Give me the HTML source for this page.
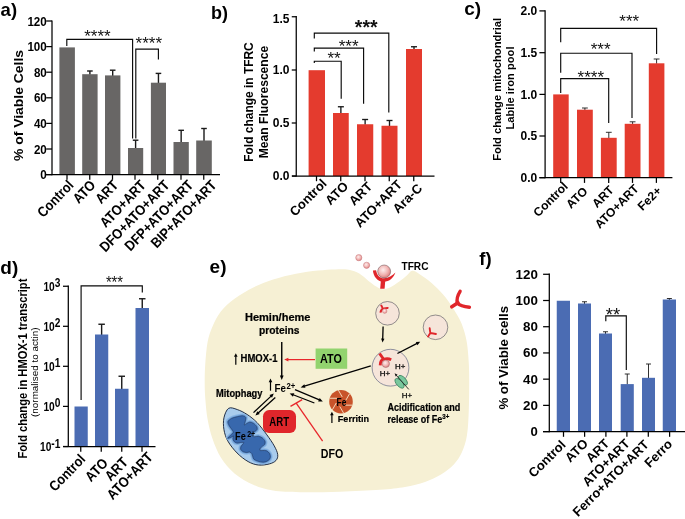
<!DOCTYPE html>
<html><head><meta charset="utf-8"><title>Figure</title>
<style>html,body{margin:0;padding:0;background:#fff;}svg{display:block;}text{font-family:"Liberation Sans", sans-serif;}</style></head><body>
<svg width="685" height="519" viewBox="0 0 685 519">
<defs><radialGradient id="pk" cx="0.42" cy="0.38" r="0.7"><stop offset="0" stop-color="#fdeeee"/><stop offset="0.55" stop-color="#f1b3b1"/><stop offset="1" stop-color="#d66f70"/></radialGradient></defs>
<rect width="685" height="519" fill="#fff"/>
<text x="0.60" y="16.00" font-size="18.5" font-weight="bold" text-anchor="start" fill="#000">a)</text>
<text x="211.00" y="18.50" font-size="18" font-weight="bold" text-anchor="start" fill="#000">b)</text>
<text x="464.30" y="14.70" font-size="19" font-weight="bold" text-anchor="start" fill="#000">c)</text>
<text x="0.30" y="273.50" font-size="19" font-weight="bold" text-anchor="start" fill="#000">d)</text>
<text x="209.60" y="272.90" font-size="19" font-weight="bold" text-anchor="start" fill="#000">e)</text>
<text x="479.30" y="265.40" font-size="18.5" font-weight="bold" text-anchor="start" fill="#000">f)</text>
<g id="panel-a">
<rect x="59.40" y="47.40" width="15.50" height="127.20" fill="#686665"/>
<line x1="89.90" y1="74.70" x2="89.90" y2="71.00" stroke="#1a1a1a" stroke-width="1.4" stroke-linecap="butt"/>
<line x1="87.10" y1="71.00" x2="92.70" y2="71.00" stroke="#1a1a1a" stroke-width="1.4" stroke-linecap="butt"/>
<rect x="82.20" y="74.20" width="15.40" height="100.40" fill="#686665"/>
<line x1="112.70" y1="75.90" x2="112.70" y2="70.20" stroke="#1a1a1a" stroke-width="1.4" stroke-linecap="butt"/>
<line x1="109.90" y1="70.20" x2="115.50" y2="70.20" stroke="#1a1a1a" stroke-width="1.4" stroke-linecap="butt"/>
<rect x="105.00" y="75.40" width="15.40" height="99.20" fill="#686665"/>
<line x1="135.60" y1="148.50" x2="135.60" y2="140.20" stroke="#1a1a1a" stroke-width="1.4" stroke-linecap="butt"/>
<line x1="132.80" y1="140.20" x2="138.40" y2="140.20" stroke="#1a1a1a" stroke-width="1.4" stroke-linecap="butt"/>
<rect x="128.00" y="148.00" width="15.20" height="26.60" fill="#686665"/>
<line x1="158.45" y1="83.20" x2="158.45" y2="73.40" stroke="#1a1a1a" stroke-width="1.4" stroke-linecap="butt"/>
<line x1="155.65" y1="73.40" x2="161.25" y2="73.40" stroke="#1a1a1a" stroke-width="1.4" stroke-linecap="butt"/>
<rect x="150.90" y="82.70" width="15.10" height="91.90" fill="#686665"/>
<line x1="181.15" y1="142.50" x2="181.15" y2="130.30" stroke="#1a1a1a" stroke-width="1.4" stroke-linecap="butt"/>
<line x1="178.35" y1="130.30" x2="183.95" y2="130.30" stroke="#1a1a1a" stroke-width="1.4" stroke-linecap="butt"/>
<rect x="173.50" y="142.00" width="15.30" height="32.60" fill="#686665"/>
<line x1="204.00" y1="141.00" x2="204.00" y2="128.50" stroke="#1a1a1a" stroke-width="1.4" stroke-linecap="butt"/>
<line x1="201.20" y1="128.50" x2="206.80" y2="128.50" stroke="#1a1a1a" stroke-width="1.4" stroke-linecap="butt"/>
<rect x="196.20" y="140.50" width="15.60" height="34.10" fill="#686665"/>
<line x1="52.00" y1="20.38" x2="52.00" y2="175.22" stroke="#000" stroke-width="1.25" stroke-linecap="butt"/>
<line x1="46.00" y1="174.60" x2="220.00" y2="174.60" stroke="#000" stroke-width="1.25" stroke-linecap="butt"/>
<line x1="46.20" y1="174.60" x2="52.00" y2="174.60" stroke="#000" stroke-width="1.25" stroke-linecap="butt"/>
<text x="46.80" y="179.14" font-size="12.6" font-weight="bold" text-anchor="end" fill="#000" textLength="6.50" lengthAdjust="spacingAndGlyphs">0</text>
<line x1="46.20" y1="149.00" x2="52.00" y2="149.00" stroke="#000" stroke-width="1.25" stroke-linecap="butt"/>
<text x="46.80" y="153.54" font-size="12.6" font-weight="bold" text-anchor="end" fill="#000" textLength="12.90" lengthAdjust="spacingAndGlyphs">20</text>
<line x1="46.20" y1="123.40" x2="52.00" y2="123.40" stroke="#000" stroke-width="1.25" stroke-linecap="butt"/>
<text x="46.80" y="127.94" font-size="12.6" font-weight="bold" text-anchor="end" fill="#000" textLength="12.90" lengthAdjust="spacingAndGlyphs">40</text>
<line x1="46.20" y1="97.80" x2="52.00" y2="97.80" stroke="#000" stroke-width="1.25" stroke-linecap="butt"/>
<text x="46.80" y="102.34" font-size="12.6" font-weight="bold" text-anchor="end" fill="#000" textLength="12.90" lengthAdjust="spacingAndGlyphs">60</text>
<line x1="46.20" y1="72.20" x2="52.00" y2="72.20" stroke="#000" stroke-width="1.25" stroke-linecap="butt"/>
<text x="46.80" y="76.74" font-size="12.6" font-weight="bold" text-anchor="end" fill="#000" textLength="12.90" lengthAdjust="spacingAndGlyphs">80</text>
<line x1="46.20" y1="46.60" x2="52.00" y2="46.60" stroke="#000" stroke-width="1.25" stroke-linecap="butt"/>
<text x="46.80" y="51.14" font-size="12.6" font-weight="bold" text-anchor="end" fill="#000" textLength="19.40" lengthAdjust="spacingAndGlyphs">100</text>
<line x1="46.20" y1="21.00" x2="52.00" y2="21.00" stroke="#000" stroke-width="1.25" stroke-linecap="butt"/>
<text x="46.80" y="26.14" font-size="12.6" font-weight="bold" text-anchor="end" fill="#000" textLength="19.40" lengthAdjust="spacingAndGlyphs">120</text>
<line x1="67.00" y1="174.60" x2="67.00" y2="179.80" stroke="#000" stroke-width="1.25" stroke-linecap="butt"/>
<text x="0.00" y="0.00" font-size="14.3" font-weight="bold" text-anchor="end" fill="#000" transform="translate(74.50 185.90) rotate(-46) scale(0.885 1)">Control</text>
<line x1="89.75" y1="174.60" x2="89.75" y2="179.80" stroke="#000" stroke-width="1.25" stroke-linecap="butt"/>
<text x="0.00" y="0.00" font-size="14.3" font-weight="bold" text-anchor="end" fill="#000" transform="translate(96.45 185.90) rotate(-46) scale(0.885 1)">ATO</text>
<line x1="112.50" y1="174.60" x2="112.50" y2="179.80" stroke="#000" stroke-width="1.25" stroke-linecap="butt"/>
<text x="0.00" y="0.00" font-size="14.3" font-weight="bold" text-anchor="end" fill="#000" transform="translate(119.20 185.90) rotate(-46) scale(0.885 1)">ART</text>
<line x1="135.00" y1="174.60" x2="135.00" y2="179.80" stroke="#000" stroke-width="1.25" stroke-linecap="butt"/>
<text x="0.00" y="0.00" font-size="14.3" font-weight="bold" text-anchor="end" fill="#000" transform="translate(146.70 185.90) rotate(-46) scale(0.885 1)">ATO+ART</text>
<line x1="157.75" y1="174.60" x2="157.75" y2="179.80" stroke="#000" stroke-width="1.25" stroke-linecap="butt"/>
<text x="0.00" y="0.00" font-size="14.3" font-weight="bold" text-anchor="end" fill="#000" transform="translate(170.25 185.90) rotate(-46) scale(0.885 1)">DFO+ATO+ART</text>
<line x1="181.00" y1="174.60" x2="181.00" y2="179.80" stroke="#000" stroke-width="1.25" stroke-linecap="butt"/>
<text x="0.00" y="0.00" font-size="14.3" font-weight="bold" text-anchor="end" fill="#000" transform="translate(194.20 185.90) rotate(-46) scale(0.885 1)">DFP+ATO+ART</text>
<line x1="203.75" y1="174.60" x2="203.75" y2="179.80" stroke="#000" stroke-width="1.25" stroke-linecap="butt"/>
<text x="0.00" y="0.00" font-size="14.3" font-weight="bold" text-anchor="end" fill="#000" transform="translate(217.45 185.90) rotate(-46) scale(0.885 1)">BIP+ATO+ART</text>
<text x="23.30" y="105.50" font-size="13.5" font-weight="bold" text-anchor="middle" fill="#000" textLength="111.00" lengthAdjust="spacingAndGlyphs" transform="rotate(-90 23.30 105.50)">% of Viable Cells</text>
<polyline points="66.80,46.00 66.80,39.40 132.60,39.40 132.60,138.50" fill="none" stroke="#0a0a0a" stroke-width="1.15"/>
<polyline points="135.80,138.50 135.80,49.10 158.40,49.10 158.40,59.60" fill="none" stroke="#0a0a0a" stroke-width="1.15"/>
<text x="97.40" y="42.10" font-size="17" font-weight="normal" text-anchor="middle" fill="#111">****</text>
<text x="148.80" y="48.60" font-size="17" font-weight="normal" text-anchor="middle" fill="#111">****</text>
</g>
<g id="panel-b">
<rect x="308.60" y="70.20" width="16.40" height="105.80" fill="#e43b2e"/>
<line x1="340.88" y1="113.50" x2="340.88" y2="106.75" stroke="#1a1a1a" stroke-width="1.35" stroke-linecap="butt"/>
<line x1="337.88" y1="106.75" x2="343.88" y2="106.75" stroke="#1a1a1a" stroke-width="1.35" stroke-linecap="butt"/>
<rect x="333.00" y="113.00" width="15.75" height="63.00" fill="#e43b2e"/>
<line x1="365.12" y1="124.75" x2="365.12" y2="119.50" stroke="#1a1a1a" stroke-width="1.35" stroke-linecap="butt"/>
<line x1="362.12" y1="119.50" x2="368.12" y2="119.50" stroke="#1a1a1a" stroke-width="1.35" stroke-linecap="butt"/>
<rect x="357.00" y="124.25" width="16.25" height="51.75" fill="#e43b2e"/>
<line x1="389.50" y1="126.25" x2="389.50" y2="120.50" stroke="#1a1a1a" stroke-width="1.35" stroke-linecap="butt"/>
<line x1="386.50" y1="120.50" x2="392.50" y2="120.50" stroke="#1a1a1a" stroke-width="1.35" stroke-linecap="butt"/>
<rect x="381.50" y="125.75" width="16.00" height="50.25" fill="#e43b2e"/>
<line x1="414.00" y1="49.50" x2="414.00" y2="46.75" stroke="#1a1a1a" stroke-width="1.35" stroke-linecap="butt"/>
<line x1="411.00" y1="46.75" x2="417.00" y2="46.75" stroke="#1a1a1a" stroke-width="1.35" stroke-linecap="butt"/>
<rect x="406.00" y="49.00" width="16.00" height="127.00" fill="#e43b2e"/>
<line x1="296.25" y1="16.12" x2="296.25" y2="176.62" stroke="#000" stroke-width="1.25" stroke-linecap="butt"/>
<line x1="292.00" y1="176.00" x2="434.50" y2="176.00" stroke="#000" stroke-width="1.25" stroke-linecap="butt"/>
<line x1="291.75" y1="176.00" x2="296.25" y2="176.00" stroke="#000" stroke-width="1.25" stroke-linecap="butt"/>
<text x="289.55" y="180.32" font-size="12" font-weight="bold" text-anchor="end" fill="#000">0.0</text>
<line x1="291.75" y1="123.00" x2="296.25" y2="123.00" stroke="#000" stroke-width="1.25" stroke-linecap="butt"/>
<text x="289.55" y="127.32" font-size="12" font-weight="bold" text-anchor="end" fill="#000">0.5</text>
<line x1="291.75" y1="70.00" x2="296.25" y2="70.00" stroke="#000" stroke-width="1.25" stroke-linecap="butt"/>
<text x="289.55" y="74.32" font-size="12" font-weight="bold" text-anchor="end" fill="#000">1.0</text>
<line x1="291.75" y1="16.75" x2="296.25" y2="16.75" stroke="#000" stroke-width="1.25" stroke-linecap="butt"/>
<text x="289.55" y="22.57" font-size="12" font-weight="bold" text-anchor="end" fill="#000">1.5</text>
<line x1="316.50" y1="176.00" x2="316.50" y2="181.20" stroke="#000" stroke-width="1.25" stroke-linecap="butt"/>
<text x="0.00" y="0.00" font-size="13" font-weight="bold" text-anchor="end" fill="#000" transform="translate(327.60 184.40) rotate(-45) scale(1.0 1)">Control</text>
<line x1="340.75" y1="176.00" x2="340.75" y2="181.20" stroke="#000" stroke-width="1.25" stroke-linecap="butt"/>
<text x="0.00" y="0.00" font-size="13" font-weight="bold" text-anchor="end" fill="#000" transform="translate(349.15 187.20) rotate(-45) scale(1.0 1)">ATO</text>
<line x1="365.00" y1="176.00" x2="365.00" y2="181.20" stroke="#000" stroke-width="1.25" stroke-linecap="butt"/>
<text x="0.00" y="0.00" font-size="13" font-weight="bold" text-anchor="end" fill="#000" transform="translate(373.10 187.40) rotate(-45) scale(1.0 1)">ART</text>
<line x1="389.25" y1="176.00" x2="389.25" y2="181.20" stroke="#000" stroke-width="1.25" stroke-linecap="butt"/>
<text x="0.00" y="0.00" font-size="13" font-weight="bold" text-anchor="end" fill="#000" transform="translate(402.75 185.50) rotate(-45) scale(1.0 1)">ATO+ART</text>
<line x1="413.75" y1="176.00" x2="413.75" y2="181.20" stroke="#000" stroke-width="1.25" stroke-linecap="butt"/>
<text x="0.00" y="0.00" font-size="13" font-weight="bold" text-anchor="end" fill="#000" transform="translate(423.05 189.00) rotate(-45) scale(1.0 1)">Ara-C</text>
<text x="252.80" y="102.00" font-size="12" font-weight="bold" text-anchor="middle" fill="#000" textLength="119.50" lengthAdjust="spacingAndGlyphs" transform="rotate(-90 252.80 102.00)">Fold change in TFRC</text>
<text x="267.80" y="102.00" font-size="12" font-weight="bold" text-anchor="middle" fill="#000" textLength="112.50" lengthAdjust="spacingAndGlyphs" transform="rotate(-90 267.80 102.00)">Mean Fluorescence</text>
<polyline points="314.30,38.60 314.30,33.10 388.80,33.10 388.80,112.50" fill="none" stroke="#0a0a0a" stroke-width="1.15"/>
<polyline points="314.30,51.40 314.30,48.10 363.60,48.10 363.60,103.80" fill="none" stroke="#0a0a0a" stroke-width="1.15"/>
<polyline points="314.30,63.00 314.30,61.20 341.20,61.20 341.20,98.80" fill="none" stroke="#0a0a0a" stroke-width="1.15"/>
<text x="366.20" y="34.00" font-size="19.5" font-weight="bold" text-anchor="middle" fill="#111">***</text>
<text x="348.60" y="51.80" font-size="17" font-weight="normal" text-anchor="middle" fill="#111">***</text>
<text x="334.10" y="64.30" font-size="17" font-weight="normal" text-anchor="middle" fill="#111">**</text>
</g>
<g id="panel-c">
<rect x="553.20" y="94.40" width="15.50" height="83.30" fill="#e43b2e"/>
<line x1="584.90" y1="110.20" x2="584.90" y2="108.00" stroke="#1a1a1a" stroke-width="0.9" stroke-linecap="butt"/>
<line x1="582.00" y1="108.00" x2="587.80" y2="108.00" stroke="#1a1a1a" stroke-width="0.9" stroke-linecap="butt"/>
<rect x="577.00" y="109.70" width="15.80" height="68.00" fill="#e43b2e"/>
<line x1="608.80" y1="138.30" x2="608.80" y2="132.30" stroke="#1a1a1a" stroke-width="0.9" stroke-linecap="butt"/>
<line x1="605.90" y1="132.30" x2="611.70" y2="132.30" stroke="#1a1a1a" stroke-width="0.9" stroke-linecap="butt"/>
<rect x="600.90" y="137.80" width="15.80" height="39.90" fill="#e43b2e"/>
<line x1="632.60" y1="124.30" x2="632.60" y2="121.80" stroke="#1a1a1a" stroke-width="0.9" stroke-linecap="butt"/>
<line x1="629.70" y1="121.80" x2="635.50" y2="121.80" stroke="#1a1a1a" stroke-width="0.9" stroke-linecap="butt"/>
<rect x="624.70" y="123.80" width="15.80" height="53.90" fill="#e43b2e"/>
<line x1="656.60" y1="63.80" x2="656.60" y2="59.00" stroke="#1a1a1a" stroke-width="0.9" stroke-linecap="butt"/>
<line x1="653.70" y1="59.00" x2="659.50" y2="59.00" stroke="#1a1a1a" stroke-width="0.9" stroke-linecap="butt"/>
<rect x="648.80" y="63.30" width="15.60" height="114.40" fill="#e43b2e"/>
<line x1="545.10" y1="10.28" x2="545.10" y2="178.32" stroke="#000" stroke-width="1.25" stroke-linecap="butt"/>
<line x1="539.40" y1="177.70" x2="672.40" y2="177.70" stroke="#000" stroke-width="1.25" stroke-linecap="butt"/>
<line x1="539.40" y1="177.70" x2="545.10" y2="177.70" stroke="#000" stroke-width="1.25" stroke-linecap="butt"/>
<text x="537.20" y="182.02" font-size="12" font-weight="bold" text-anchor="end" fill="#000">0.0</text>
<line x1="539.40" y1="136.00" x2="545.10" y2="136.00" stroke="#000" stroke-width="1.25" stroke-linecap="butt"/>
<text x="537.20" y="140.32" font-size="12" font-weight="bold" text-anchor="end" fill="#000">0.5</text>
<line x1="539.40" y1="94.40" x2="545.10" y2="94.40" stroke="#000" stroke-width="1.25" stroke-linecap="butt"/>
<text x="537.20" y="98.72" font-size="12" font-weight="bold" text-anchor="end" fill="#000">1.0</text>
<line x1="539.40" y1="52.70" x2="545.10" y2="52.70" stroke="#000" stroke-width="1.25" stroke-linecap="butt"/>
<text x="537.20" y="57.02" font-size="12" font-weight="bold" text-anchor="end" fill="#000">1.5</text>
<line x1="539.40" y1="10.90" x2="545.10" y2="10.90" stroke="#000" stroke-width="1.25" stroke-linecap="butt"/>
<text x="537.20" y="15.22" font-size="12" font-weight="bold" text-anchor="end" fill="#000">2.0</text>
<line x1="560.70" y1="177.70" x2="560.70" y2="182.90" stroke="#000" stroke-width="1.25" stroke-linecap="butt"/>
<text x="0.00" y="0.00" font-size="12.1" font-weight="bold" text-anchor="end" fill="#000" transform="translate(568.70 187.10) rotate(-45) scale(1.0 1)">Control</text>
<line x1="584.50" y1="177.70" x2="584.50" y2="182.90" stroke="#000" stroke-width="1.25" stroke-linecap="butt"/>
<text x="0.00" y="0.00" font-size="12.1" font-weight="bold" text-anchor="end" fill="#000" transform="translate(588.30 192.00) rotate(-45) scale(1.0 1)">ATO</text>
<line x1="608.70" y1="177.70" x2="608.70" y2="182.90" stroke="#000" stroke-width="1.25" stroke-linecap="butt"/>
<text x="0.00" y="0.00" font-size="12.1" font-weight="bold" text-anchor="end" fill="#000" transform="translate(614.60 190.80) rotate(-45) scale(1.0 1)">ART</text>
<line x1="632.50" y1="177.70" x2="632.50" y2="182.90" stroke="#000" stroke-width="1.25" stroke-linecap="butt"/>
<text x="0.00" y="0.00" font-size="12.1" font-weight="bold" text-anchor="end" fill="#000" transform="translate(639.50 189.40) rotate(-45) scale(1.0 1)">ATO+ART</text>
<line x1="656.40" y1="177.70" x2="656.40" y2="182.90" stroke="#000" stroke-width="1.25" stroke-linecap="butt"/>
<text x="0.00" y="0.00" font-size="12.1" font-weight="bold" text-anchor="end" fill="#000" transform="translate(662.30 191.50) rotate(-45) scale(1.0 1)">Fe2+</text>
<text x="501.00" y="89.30" font-size="11.2" font-weight="bold" text-anchor="middle" fill="#000" textLength="142.80" lengthAdjust="spacingAndGlyphs" transform="rotate(-90 501.00 89.30)">Fold change mitochondrial</text>
<text x="514.00" y="88.00" font-size="11.2" font-weight="bold" text-anchor="middle" fill="#000" textLength="83.00" lengthAdjust="spacingAndGlyphs" transform="rotate(-90 514.00 88.00)">Labile iron pool</text>
<polyline points="560.70,42.20 560.70,28.40 656.60,28.40 656.60,54.00" fill="none" stroke="#0a0a0a" stroke-width="1.15"/>
<polyline points="560.70,72.80 560.70,53.20 632.00,53.20 632.00,118.00" fill="none" stroke="#0a0a0a" stroke-width="1.15"/>
<polyline points="560.70,92.90 560.70,78.60 608.70,78.60 608.70,123.00" fill="none" stroke="#0a0a0a" stroke-width="1.15"/>
<text x="629.20" y="27.30" font-size="17" font-weight="normal" text-anchor="middle" fill="#111">***</text>
<text x="600.60" y="54.90" font-size="17" font-weight="normal" text-anchor="middle" fill="#111">***</text>
<text x="590.80" y="82.50" font-size="17" font-weight="normal" text-anchor="middle" fill="#111">****</text>
</g>
<g id="panel-d">
<rect x="74.50" y="406.50" width="13.25" height="40.00" fill="#4b6cb3"/>
<line x1="101.62" y1="335.00" x2="101.62" y2="324.25" stroke="#1a1a1a" stroke-width="1.4" stroke-linecap="butt"/>
<line x1="98.38" y1="324.25" x2="104.88" y2="324.25" stroke="#1a1a1a" stroke-width="1.4" stroke-linecap="butt"/>
<rect x="95.00" y="334.50" width="13.25" height="112.00" fill="#4b6cb3"/>
<line x1="121.75" y1="389.25" x2="121.75" y2="376.25" stroke="#1a1a1a" stroke-width="1.4" stroke-linecap="butt"/>
<line x1="118.50" y1="376.25" x2="125.00" y2="376.25" stroke="#1a1a1a" stroke-width="1.4" stroke-linecap="butt"/>
<rect x="115.00" y="388.75" width="13.50" height="57.75" fill="#4b6cb3"/>
<line x1="142.25" y1="308.50" x2="142.25" y2="298.75" stroke="#1a1a1a" stroke-width="1.4" stroke-linecap="butt"/>
<line x1="139.00" y1="298.75" x2="145.50" y2="298.75" stroke="#1a1a1a" stroke-width="1.4" stroke-linecap="butt"/>
<rect x="135.50" y="308.00" width="13.50" height="138.50" fill="#4b6cb3"/>
<line x1="68.30" y1="285.62" x2="68.30" y2="447.12" stroke="#000" stroke-width="1.25" stroke-linecap="butt"/>
<line x1="63.20" y1="446.50" x2="155.50" y2="446.50" stroke="#000" stroke-width="1.25" stroke-linecap="butt"/>
<line x1="63.00" y1="446.50" x2="68.30" y2="446.50" stroke="#000" stroke-width="1.25" stroke-linecap="butt"/>
<line x1="63.00" y1="406.40" x2="68.30" y2="406.40" stroke="#000" stroke-width="1.25" stroke-linecap="butt"/>
<line x1="63.00" y1="366.30" x2="68.30" y2="366.30" stroke="#000" stroke-width="1.25" stroke-linecap="butt"/>
<line x1="63.00" y1="326.30" x2="68.30" y2="326.30" stroke="#000" stroke-width="1.25" stroke-linecap="butt"/>
<line x1="63.00" y1="286.25" x2="68.30" y2="286.25" stroke="#000" stroke-width="1.25" stroke-linecap="butt"/>
<line x1="80.75" y1="446.50" x2="80.75" y2="451.70" stroke="#000" stroke-width="1.25" stroke-linecap="butt"/>
<text x="0.00" y="0.00" font-size="14.3" font-weight="bold" text-anchor="end" fill="#000" transform="translate(86.25 460.00) rotate(-46) scale(0.885 1)">Control</text>
<line x1="101.25" y1="446.50" x2="101.25" y2="451.70" stroke="#000" stroke-width="1.25" stroke-linecap="butt"/>
<text x="0.00" y="0.00" font-size="14.3" font-weight="bold" text-anchor="end" fill="#000" transform="translate(108.75 464.00) rotate(-46) scale(0.885 1)">ATO</text>
<line x1="121.75" y1="446.50" x2="121.75" y2="451.70" stroke="#000" stroke-width="1.25" stroke-linecap="butt"/>
<text x="0.00" y="0.00" font-size="14.3" font-weight="bold" text-anchor="end" fill="#000" transform="translate(128.75 463.00) rotate(-46) scale(0.885 1)">ART</text>
<line x1="142.00" y1="446.50" x2="142.00" y2="451.70" stroke="#000" stroke-width="1.25" stroke-linecap="butt"/>
<text x="0.00" y="0.00" font-size="14.3" font-weight="bold" text-anchor="end" fill="#000" transform="translate(153.70 458.00) rotate(-46) scale(0.885 1)">ATO+ART</text>
<text transform="translate(60.4 450.90) scale(0.85 1)" font-size="12" font-weight="bold" text-anchor="end">10<tspan dy="-3.4">-1</tspan></text>
<text transform="translate(60.4 410.80) scale(0.85 1)" font-size="12" font-weight="bold" text-anchor="end">10<tspan dy="-3.4">0</tspan></text>
<text transform="translate(60.4 370.70) scale(0.85 1)" font-size="12" font-weight="bold" text-anchor="end">10<tspan dy="-3.4">1</tspan></text>
<text transform="translate(60.4 330.70) scale(0.85 1)" font-size="12" font-weight="bold" text-anchor="end">10<tspan dy="-3.4">2</tspan></text>
<text transform="translate(60.4 290.65) scale(0.85 1)" font-size="12" font-weight="bold" text-anchor="end">10<tspan dy="-3.4">3</tspan></text>
<text x="27.20" y="368.60" font-size="12.5" font-weight="bold" text-anchor="middle" fill="#000" textLength="180.00" lengthAdjust="spacingAndGlyphs" transform="rotate(-90 27.20 368.60)">Fold change in HMOX-1 transcript</text>
<text x="37.60" y="372.20" font-size="9.8" font-weight="normal" text-anchor="middle" fill="#000" textLength="89.50" lengthAdjust="spacingAndGlyphs" transform="rotate(-90 37.60 372.20)">(normalised to actin)</text>
<polyline points="81.10,400.00 81.10,285.90 142.30,285.90 142.30,292.50" fill="none" stroke="#0a0a0a" stroke-width="1.15"/>
<text x="114.50" y="288.40" font-size="17" font-weight="normal" text-anchor="middle" fill="#111" textLength="17.20" lengthAdjust="spacingAndGlyphs">***</text>
</g>
<g id="panel-f">
<rect x="556.75" y="300.75" width="13.25" height="130.85" fill="#4b6cb3"/>
<line x1="584.50" y1="304.00" x2="584.50" y2="301.75" stroke="#1a1a1a" stroke-width="0.9" stroke-linecap="butt"/>
<line x1="582.00" y1="301.75" x2="587.00" y2="301.75" stroke="#1a1a1a" stroke-width="0.9" stroke-linecap="butt"/>
<rect x="578.00" y="303.50" width="13.00" height="128.10" fill="#4b6cb3"/>
<line x1="605.50" y1="334.00" x2="605.50" y2="331.75" stroke="#1a1a1a" stroke-width="0.9" stroke-linecap="butt"/>
<line x1="603.00" y1="331.75" x2="608.00" y2="331.75" stroke="#1a1a1a" stroke-width="0.9" stroke-linecap="butt"/>
<rect x="599.00" y="333.50" width="13.00" height="98.10" fill="#4b6cb3"/>
<line x1="627.25" y1="384.60" x2="627.25" y2="374.00" stroke="#1a1a1a" stroke-width="0.9" stroke-linecap="butt"/>
<line x1="624.75" y1="374.00" x2="629.75" y2="374.00" stroke="#1a1a1a" stroke-width="0.9" stroke-linecap="butt"/>
<rect x="620.70" y="384.10" width="13.10" height="47.50" fill="#4b6cb3"/>
<line x1="648.50" y1="378.30" x2="648.50" y2="364.00" stroke="#1a1a1a" stroke-width="0.9" stroke-linecap="butt"/>
<line x1="646.00" y1="364.00" x2="651.00" y2="364.00" stroke="#1a1a1a" stroke-width="0.9" stroke-linecap="butt"/>
<rect x="642.00" y="377.80" width="13.00" height="53.80" fill="#4b6cb3"/>
<line x1="669.38" y1="300.00" x2="669.38" y2="298.50" stroke="#1a1a1a" stroke-width="0.9" stroke-linecap="butt"/>
<line x1="666.88" y1="298.50" x2="671.88" y2="298.50" stroke="#1a1a1a" stroke-width="0.9" stroke-linecap="butt"/>
<rect x="662.75" y="299.50" width="13.25" height="132.10" fill="#4b6cb3"/>
<line x1="549.30" y1="273.62" x2="549.30" y2="432.23" stroke="#000" stroke-width="1.25" stroke-linecap="butt"/>
<line x1="543.00" y1="431.60" x2="685.00" y2="431.60" stroke="#000" stroke-width="1.25" stroke-linecap="butt"/>
<line x1="543.10" y1="431.60" x2="549.30" y2="431.60" stroke="#000" stroke-width="1.25" stroke-linecap="butt"/>
<text x="537.90" y="436.10" font-size="12.5" font-weight="bold" text-anchor="end" fill="#000" textLength="7.30" lengthAdjust="spacingAndGlyphs">0</text>
<line x1="543.10" y1="405.38" x2="549.30" y2="405.38" stroke="#000" stroke-width="1.25" stroke-linecap="butt"/>
<text x="537.90" y="409.88" font-size="12.5" font-weight="bold" text-anchor="end" fill="#000" textLength="14.90" lengthAdjust="spacingAndGlyphs">20</text>
<line x1="543.10" y1="379.16" x2="549.30" y2="379.16" stroke="#000" stroke-width="1.25" stroke-linecap="butt"/>
<text x="537.90" y="383.66" font-size="12.5" font-weight="bold" text-anchor="end" fill="#000" textLength="14.90" lengthAdjust="spacingAndGlyphs">40</text>
<line x1="543.10" y1="352.94" x2="549.30" y2="352.94" stroke="#000" stroke-width="1.25" stroke-linecap="butt"/>
<text x="537.90" y="357.44" font-size="12.5" font-weight="bold" text-anchor="end" fill="#000" textLength="14.90" lengthAdjust="spacingAndGlyphs">60</text>
<line x1="543.10" y1="326.72" x2="549.30" y2="326.72" stroke="#000" stroke-width="1.25" stroke-linecap="butt"/>
<text x="537.90" y="331.22" font-size="12.5" font-weight="bold" text-anchor="end" fill="#000" textLength="14.90" lengthAdjust="spacingAndGlyphs">80</text>
<line x1="543.10" y1="300.50" x2="549.30" y2="300.50" stroke="#000" stroke-width="1.25" stroke-linecap="butt"/>
<text x="537.90" y="305.00" font-size="12.5" font-weight="bold" text-anchor="end" fill="#000" textLength="22.30" lengthAdjust="spacingAndGlyphs">100</text>
<line x1="543.10" y1="274.28" x2="549.30" y2="274.28" stroke="#000" stroke-width="1.25" stroke-linecap="butt"/>
<text x="537.90" y="279.08" font-size="12.5" font-weight="bold" text-anchor="end" fill="#000" textLength="22.30" lengthAdjust="spacingAndGlyphs">120</text>
<line x1="563.50" y1="431.60" x2="563.50" y2="436.80" stroke="#000" stroke-width="1.25" stroke-linecap="butt"/>
<text x="0.00" y="0.00" font-size="13" font-weight="bold" text-anchor="end" fill="#000" transform="translate(566.50 445.60) rotate(-45) scale(1.0 1)">Control</text>
<line x1="584.60" y1="431.60" x2="584.60" y2="436.80" stroke="#000" stroke-width="1.25" stroke-linecap="butt"/>
<text x="0.00" y="0.00" font-size="13" font-weight="bold" text-anchor="end" fill="#000" transform="translate(588.90 444.40) rotate(-45) scale(1.0 1)">ATO</text>
<line x1="605.90" y1="431.60" x2="605.90" y2="436.80" stroke="#000" stroke-width="1.25" stroke-linecap="butt"/>
<text x="0.00" y="0.00" font-size="13" font-weight="bold" text-anchor="end" fill="#000" transform="translate(610.20 444.40) rotate(-45) scale(1.0 1)">ART</text>
<line x1="626.90" y1="431.60" x2="626.90" y2="436.80" stroke="#000" stroke-width="1.25" stroke-linecap="butt"/>
<text x="0.00" y="0.00" font-size="13" font-weight="bold" text-anchor="end" fill="#000" transform="translate(630.50 444.40) rotate(-45) scale(1.0 1)">ATO+ART</text>
<line x1="648.30" y1="431.60" x2="648.30" y2="436.80" stroke="#000" stroke-width="1.25" stroke-linecap="butt"/>
<text x="0.00" y="0.00" font-size="13" font-weight="bold" text-anchor="end" fill="#000" transform="translate(649.70 445.50) rotate(-45) scale(1.0 1)">Ferro+ATO+ART</text>
<line x1="669.60" y1="431.60" x2="669.60" y2="436.80" stroke="#000" stroke-width="1.25" stroke-linecap="butt"/>
<text x="0.00" y="0.00" font-size="13" font-weight="bold" text-anchor="end" fill="#000" transform="translate(673.20 444.80) rotate(-45) scale(1.0 1)">Ferro</text>
<text x="508.30" y="357.80" font-size="13.2" font-weight="bold" text-anchor="middle" fill="#000" textLength="103.60" lengthAdjust="spacingAndGlyphs" transform="rotate(-90 508.30 357.80)">% of Viable cells</text>
<polyline points="605.80,321.30 605.80,315.80 626.30,315.80 626.30,370.00" fill="none" stroke="#0a0a0a" stroke-width="1.15"/>
<text x="613.00" y="320.70" font-size="18.5" font-weight="normal" text-anchor="middle" fill="#111">**</text>
</g>
<g id="panel-e">
<path d="M412.30,270.80 C414.50,270.63 416.78,272.38 420.00,274.40 C423.22,276.42 427.75,279.55 431.60,282.90 C435.45,286.25 439.63,290.45 443.10,294.50 C446.57,298.55 449.70,303.15 452.40,307.20 C455.10,311.25 457.38,314.97 459.30,318.80 C461.22,322.63 462.62,326.08 463.90,330.20 C465.18,334.32 466.20,338.25 467.00,343.50 C467.80,348.75 468.33,355.62 468.70,361.70 C469.07,367.78 469.18,371.95 469.20,380.00 C469.22,388.05 469.17,400.83 468.80,410.00 C468.43,419.17 468.13,428.00 467.00,435.00 C465.87,442.00 464.20,447.10 462.00,452.00 C459.80,456.90 457.30,460.65 453.80,464.40 C450.30,468.15 445.80,471.57 441.00,474.50 C436.20,477.43 431.00,479.92 425.00,482.00 C419.00,484.08 412.50,485.70 405.00,487.00 C397.50,488.30 390.83,489.02 380.00,489.80 C369.17,490.58 353.33,491.28 340.00,491.70 C326.67,492.12 311.17,492.48 300.00,492.30 C288.83,492.12 280.70,491.82 273.00,490.60 C265.30,489.38 260.22,487.87 253.80,485.00 C247.38,482.13 239.97,477.93 234.50,473.40 C229.03,468.87 224.68,463.62 221.00,457.80 C217.32,451.98 214.63,444.92 212.40,438.50 C210.17,432.08 208.77,425.72 207.60,419.30 C206.43,412.88 205.88,405.88 205.40,400.00 C204.92,394.12 204.73,389.83 204.70,384.00 C204.67,378.17 204.72,371.98 205.20,365.00 C205.68,358.02 206.40,348.48 207.60,342.10 C208.80,335.72 210.17,331.85 212.40,326.70 C214.63,321.55 217.32,315.87 221.00,311.20 C224.68,306.53 229.03,302.70 234.50,298.70 C239.97,294.70 247.37,290.40 253.80,287.20 C260.23,284.00 266.07,281.75 273.10,279.50 C280.13,277.25 288.52,275.20 296.00,273.70 C303.48,272.20 311.50,271.22 318.00,270.50 C324.50,269.78 329.83,269.52 335.00,269.40 C340.17,269.28 344.95,269.10 349.00,269.80 C353.05,270.50 356.05,271.73 359.30,273.60 C362.55,275.47 365.68,278.83 368.50,281.00 C371.32,283.17 373.88,285.23 376.20,286.60 C378.52,287.97 380.10,289.07 382.40,289.20 C384.70,289.33 387.18,288.70 390.00,287.40 C392.82,286.10 396.50,283.40 399.30,281.40 C402.10,279.40 404.63,277.17 406.80,275.40 C408.97,273.63 410.10,270.97 412.30,270.80Z" fill="#f6f0d4"/>
<circle cx="358.8" cy="257.7" r="3.1" fill="url(#pk)" stroke="#c47a7e" stroke-width="0.5"/>
<circle cx="366.6" cy="265.3" r="3.1" fill="url(#pk)" stroke="#c47a7e" stroke-width="0.5"/>
<path d="M372.9,270.5 C373.5,276.6 377.4,281.4 383.2,281.9 C389.6,282 393.8,277.6 395.4,272.6 C392.2,275.6 388.4,278.2 384.1,278.3 C379.9,278.1 376.9,275.5 376.1,270.2 Z" fill="#e0262b"/>
<path d="M380.9,280.3 L385.3,280.3 L384.6,288.8 L380.2,288.8 Z" fill="#e0262b"/>
<circle cx="384.15" cy="271.45" r="6.45" fill="url(#pk)" stroke="#6e5558" stroke-width="0.55"/>
<text x="401.50" y="270.00" font-size="11.3" font-weight="bold" text-anchor="start" fill="#000" textLength="27.00" lengthAdjust="spacingAndGlyphs">TFRC</text>
<path d="M460.1,291.3 C457.4,295.6 456.4,299.6 457.4,303.2 C459.4,305.4 463,306.8 469.4,307.2" fill="none" stroke="#e0262b" stroke-width="3.4" stroke-linecap="round"/>
<path d="M458,302.8 L451.8,306.8" fill="none" stroke="#e0262b" stroke-width="3.6" stroke-linecap="round"/>
<circle cx="387.5" cy="313.3" r="11.8" fill="#f6e5da" stroke="#4d4d55" stroke-width="0.6"/>
<path d="M381,304.9 L382.9,308.6 M380.4,312.6 C380.8,310.2 382.2,308.7 384,308.4 C385.8,307.9 387.2,307.8 388.4,308" fill="none" stroke="#e0262b" stroke-width="2"/>
<circle cx="384.7" cy="311.1" r="2.3" fill="url(#pk)" stroke="#c47a7e" stroke-width="0.4"/>
<circle cx="435.5" cy="327.3" r="12.3" fill="#f6e5da" stroke="#4d4d55" stroke-width="0.6"/>
<path d="M429.7,328.3 L430.3,333 L435.9,334 M430.3,333 L428.1,336.4" fill="none" stroke="#e0262b" stroke-width="1.9" stroke-linecap="round"/>
<circle cx="390.5" cy="367.7" r="18.4" fill="#f6e5da" stroke="#4a5275" stroke-width="0.6"/>
<path d="M379.6,353.5 L383.4,359 M380.2,365.4 C380.3,361.5 381.6,359.6 383.8,359.3 C386.5,358.4 389.2,358.7 391.2,359.7" fill="none" stroke="#e0262b" stroke-width="2.9"/>
<circle cx="385.8" cy="363.8" r="3.7" fill="url(#pk)" stroke="#9a6668" stroke-width="0.5"/>
<text x="395.00" y="368.90" font-size="8" font-weight="normal" text-anchor="start" fill="#000" textLength="10.30" lengthAdjust="spacingAndGlyphs" stroke="#000" stroke-width="0.25">H+</text>
<text x="379.70" y="375.70" font-size="8" font-weight="normal" text-anchor="start" fill="#000" textLength="10.30" lengthAdjust="spacingAndGlyphs" stroke="#000" stroke-width="0.25">H+</text>
<text x="401.70" y="397.60" font-size="8" font-weight="normal" text-anchor="start" fill="#000" textLength="10.30" lengthAdjust="spacingAndGlyphs" stroke="#000" stroke-width="0.25">H+</text>
<g transform="translate(401.2,381.8) rotate(48)"><ellipse cx="0" cy="-2.3" rx="6" ry="2.9" fill="#79c79d" stroke="#2f7d57" stroke-width="0.75"/><ellipse cx="0" cy="2.3" rx="6" ry="2.9" fill="#79c79d" stroke="#2f7d57" stroke-width="0.75"/></g>
<line x1="396.20" y1="375.20" x2="408.80" y2="389.40" stroke="#222" stroke-width="0.9" stroke-linecap="butt"/>
<polygon points="394.6,373.3 397.6,374.7 395.7,376.4" fill="#111"/>
<line x1="383.10" y1="326.60" x2="382.71" y2="339.10" stroke="#000" stroke-width="1.3" stroke-linecap="butt"/>
<polygon points="382.60,342.60 381.03,338.55 384.42,338.66" fill="#000"/>
<line x1="397.40" y1="353.50" x2="417.09" y2="343.40" stroke="#000" stroke-width="1.3" stroke-linecap="butt"/>
<polygon points="420.20,341.80 417.42,345.14 415.87,342.11" fill="#000"/>
<line x1="370.80" y1="365.90" x2="304.42" y2="386.23" stroke="#000" stroke-width="1.3" stroke-linecap="butt"/>
<polygon points="300.60,387.40 304.38,384.36 305.43,387.80" fill="#000"/>
<line x1="281.75" y1="342.00" x2="281.75" y2="376.00" stroke="#000" stroke-width="1.4" stroke-linecap="butt"/>
<polygon points="281.75,380.00 279.85,375.50 283.65,375.50" fill="#000"/>
<text x="277.70" y="320.50" font-size="10.5" font-weight="bold" text-anchor="middle" fill="#000" textLength="65.40" lengthAdjust="spacingAndGlyphs" stroke="#000" stroke-width="0.22">Hemin/heme</text>
<text x="279.30" y="333.80" font-size="10.5" font-weight="bold" text-anchor="middle" fill="#000" textLength="40.50" lengthAdjust="spacingAndGlyphs" stroke="#000" stroke-width="0.22">proteins</text>
<line x1="235.80" y1="364.70" x2="235.80" y2="356.30" stroke="#000" stroke-width="1.2" stroke-linecap="butt"/>
<polygon points="235.80,353.20 237.60,356.80 234.00,356.80" fill="#000"/>
<text x="240.60" y="362.00" font-size="10.3" font-weight="bold" text-anchor="start" fill="#000" textLength="36.80" lengthAdjust="spacingAndGlyphs" stroke="#000" stroke-width="0.22">HMOX-1</text>
<line x1="315.00" y1="359.60" x2="287.90" y2="359.60" stroke="#e8262b" stroke-width="1.25" stroke-linecap="butt"/>
<polygon points="284.20,359.60 288.40,357.80 288.40,361.40" fill="#e8262b"/>
<rect x="315.6" y="348.5" width="31.6" height="20.3" fill="#92d36e"/>
<text x="320.00" y="363.20" font-size="12" font-weight="bold" text-anchor="start" fill="#000" textLength="21.80" lengthAdjust="spacingAndGlyphs">ATO</text>
<line x1="270.50" y1="390.70" x2="270.50" y2="381.70" stroke="#000" stroke-width="1.2" stroke-linecap="butt"/>
<polygon points="270.50,378.60 272.30,382.20 268.70,382.20" fill="#000"/>
<text x="274.60" y="392.10" font-size="11.6" font-weight="bold" text-anchor="start" fill="#000" textLength="11.40" lengthAdjust="spacingAndGlyphs">Fe</text>
<text x="286.50" y="389.00" font-size="8.6" font-weight="bold" text-anchor="start" fill="#000" textLength="8.80" lengthAdjust="spacingAndGlyphs">2+</text>
<text x="216.00" y="396.80" font-size="10.2" font-weight="bold" text-anchor="start" fill="#000" textLength="46.40" lengthAdjust="spacingAndGlyphs" stroke="#000" stroke-width="0.22">Mitophagy</text>
<line x1="253.50" y1="412.60" x2="271.10" y2="396.13" stroke="#000" stroke-width="1.3" stroke-linecap="butt"/>
<polygon points="273.80,393.60 272.03,397.86 269.44,395.08" fill="#000"/>
<line x1="275.30" y1="397.50" x2="258.15" y2="412.93" stroke="#000" stroke-width="1.3" stroke-linecap="butt"/>
<polygon points="255.40,415.40 257.25,411.18 259.79,414.00" fill="#000"/>
<line x1="295.00" y1="389.70" x2="319.39" y2="399.96" stroke="#000" stroke-width="1.3" stroke-linecap="butt"/>
<polygon points="322.80,401.40 318.19,401.52 319.67,398.02" fill="#000"/>
<line x1="314.40" y1="403.00" x2="293.15" y2="394.74" stroke="#000" stroke-width="1.3" stroke-linecap="butt"/>
<polygon points="289.70,393.40 294.30,393.15 292.93,396.69" fill="#000"/>
<line x1="322.60" y1="441.20" x2="296.20" y2="403.10" stroke="#e8262b" stroke-width="1.3" stroke-linecap="butt"/>
<line x1="290.50" y1="406.40" x2="302.20" y2="399.70" stroke="#e8262b" stroke-width="1.4" stroke-linecap="butt"/>
<text x="320.80" y="457.90" font-size="12" font-weight="bold" text-anchor="start" fill="#000" textLength="22.50" lengthAdjust="spacingAndGlyphs">DFO</text>
<rect x="263" y="410.1" width="33" height="23" rx="6.2" ry="6.2" fill="#e0262b"/>
<text x="269.30" y="426.00" font-size="12" font-weight="bold" text-anchor="start" fill="#000" textLength="19.80" lengthAdjust="spacingAndGlyphs">ART</text>
<path d="M228.63,408.32 C230.85,406.94 234.18,408.52 237.26,409.55 C240.35,410.58 243.84,412.32 247.13,414.48 C250.42,416.64 253.70,419.10 256.99,422.50 C260.28,425.89 263.98,430.92 266.86,434.83 C269.73,438.73 272.45,442.64 274.25,445.92 C276.06,449.21 277.42,452.13 277.71,454.55 C277.99,456.98 277.38,458.91 275.98,460.47 C274.58,462.04 272.24,463.17 269.32,463.93 C266.40,464.69 262.01,465.43 258.47,465.04 C254.94,464.65 251.69,463.60 248.11,461.58 C244.54,459.57 240.39,456.36 237.02,452.95 C233.65,449.54 230.07,445.00 227.89,441.11 C225.71,437.23 224.60,433.53 223.95,429.65 C223.29,425.76 223.16,421.37 223.95,417.81 C224.73,414.25 226.41,409.69 228.63,408.32Z" fill="#a9cced" stroke="#111c33" stroke-width="0.9"/>
<clipPath id="mclip"><path d="M228.63,408.32 C230.85,406.94 234.18,408.52 237.26,409.55 C240.35,410.58 243.84,412.32 247.13,414.48 C250.42,416.64 253.70,419.10 256.99,422.50 C260.28,425.89 263.98,430.92 266.86,434.83 C269.73,438.73 272.45,442.64 274.25,445.92 C276.06,449.21 277.42,452.13 277.71,454.55 C277.99,456.98 277.38,458.91 275.98,460.47 C274.58,462.04 272.24,463.17 269.32,463.93 C266.40,464.69 262.01,465.43 258.47,465.04 C254.94,464.65 251.69,463.60 248.11,461.58 C244.54,459.57 240.39,456.36 237.02,452.95 C233.65,449.54 230.07,445.00 227.89,441.11 C225.71,437.23 224.60,433.53 223.95,429.65 C223.29,425.76 223.16,421.37 223.95,417.81 C224.73,414.25 226.41,409.69 228.63,408.32Z"/></clipPath>
<g clip-path="url(#mclip)"><g transform="translate(-0.9 0.9)">
<path d="M228.88,420.65 C229.25,419.63 230.89,418.30 232.33,417.56 C233.77,416.82 236.83,416.12 238.50,415.71 C240.16,415.31 242.23,414.76 243.43,414.85 C244.63,414.94 246.09,415.55 246.51,416.33 C246.94,417.11 246.45,418.86 246.26,420.03 C246.08,421.19 245.06,423.73 245.28,424.10 C245.50,424.47 246.91,422.92 247.74,422.50 C248.58,422.07 249.81,421.26 250.83,421.26 C251.84,421.26 253.51,421.85 254.53,422.50 C255.54,423.14 257.09,424.65 257.61,425.58 C258.13,426.50 258.26,427.90 257.98,428.66 C257.70,429.42 256.46,430.04 255.76,430.63 C255.06,431.23 253.70,431.94 253.29,432.61 C252.89,433.27 252.68,434.59 253.05,435.07 C253.42,435.55 254.80,435.76 255.76,435.81 C256.72,435.87 258.35,435.26 259.46,435.44 C260.57,435.63 262.19,436.31 263.16,437.05 C264.12,437.79 265.50,439.41 265.87,440.37 C266.24,441.34 266.03,442.70 265.62,443.46 C265.22,444.22 263.80,444.88 263.16,445.43 C262.51,445.99 261.64,446.55 261.31,447.16 C260.97,447.77 260.57,449.13 260.94,449.50 C261.31,449.87 262.79,449.57 263.77,449.62 C264.75,449.68 266.45,449.41 267.47,449.87 C268.49,450.33 269.98,451.73 270.55,452.71 C271.13,453.69 271.48,455.39 271.29,456.40 C271.11,457.42 270.36,458.75 269.32,459.49 C268.29,460.23 266.05,461.24 264.39,461.34 C262.73,461.43 259.67,460.57 258.22,460.10 C256.78,459.64 255.47,458.99 254.77,458.25 C254.07,457.51 253.85,456.00 253.54,455.17 C253.22,454.34 253.12,453.32 252.68,452.71 C252.23,452.09 251.32,451.27 250.58,451.10 C249.84,450.94 248.72,451.63 247.74,451.60 C246.76,451.56 244.97,451.34 244.04,450.86 C243.12,450.37 241.89,449.20 241.58,448.39 C241.26,447.58 241.58,446.24 241.95,445.43 C242.32,444.62 243.66,443.54 244.04,442.96 C244.43,442.39 244.91,441.81 244.54,441.61 C244.17,441.40 242.58,441.52 241.58,441.61 C240.58,441.70 238.90,442.41 237.88,442.22 C236.86,442.04 235.41,441.11 234.80,440.37 C234.19,439.64 233.87,438.09 233.81,437.29 C233.75,436.50 234.74,435.18 234.43,435.07 C234.11,434.96 232.58,436.22 231.71,436.55 C230.84,436.89 228.54,437.74 228.63,437.29 C228.72,436.85 231.50,434.52 232.33,433.59 C233.16,432.67 234.18,431.96 234.18,431.13 C234.18,430.29 232.98,429.06 232.33,428.04 C231.68,427.03 230.38,425.45 229.86,424.35 C229.35,423.24 228.51,421.66 228.88,420.65Z" fill="#3868ad" stroke="#8ab6e4" stroke-width="4.4" stroke-linejoin="round"/>
<path d="M228.88,420.65 C229.25,419.63 230.89,418.30 232.33,417.56 C233.77,416.82 236.83,416.12 238.50,415.71 C240.16,415.31 242.23,414.76 243.43,414.85 C244.63,414.94 246.09,415.55 246.51,416.33 C246.94,417.11 246.45,418.86 246.26,420.03 C246.08,421.19 245.06,423.73 245.28,424.10 C245.50,424.47 246.91,422.92 247.74,422.50 C248.58,422.07 249.81,421.26 250.83,421.26 C251.84,421.26 253.51,421.85 254.53,422.50 C255.54,423.14 257.09,424.65 257.61,425.58 C258.13,426.50 258.26,427.90 257.98,428.66 C257.70,429.42 256.46,430.04 255.76,430.63 C255.06,431.23 253.70,431.94 253.29,432.61 C252.89,433.27 252.68,434.59 253.05,435.07 C253.42,435.55 254.80,435.76 255.76,435.81 C256.72,435.87 258.35,435.26 259.46,435.44 C260.57,435.63 262.19,436.31 263.16,437.05 C264.12,437.79 265.50,439.41 265.87,440.37 C266.24,441.34 266.03,442.70 265.62,443.46 C265.22,444.22 263.80,444.88 263.16,445.43 C262.51,445.99 261.64,446.55 261.31,447.16 C260.97,447.77 260.57,449.13 260.94,449.50 C261.31,449.87 262.79,449.57 263.77,449.62 C264.75,449.68 266.45,449.41 267.47,449.87 C268.49,450.33 269.98,451.73 270.55,452.71 C271.13,453.69 271.48,455.39 271.29,456.40 C271.11,457.42 270.36,458.75 269.32,459.49 C268.29,460.23 266.05,461.24 264.39,461.34 C262.73,461.43 259.67,460.57 258.22,460.10 C256.78,459.64 255.47,458.99 254.77,458.25 C254.07,457.51 253.85,456.00 253.54,455.17 C253.22,454.34 253.12,453.32 252.68,452.71 C252.23,452.09 251.32,451.27 250.58,451.10 C249.84,450.94 248.72,451.63 247.74,451.60 C246.76,451.56 244.97,451.34 244.04,450.86 C243.12,450.37 241.89,449.20 241.58,448.39 C241.26,447.58 241.58,446.24 241.95,445.43 C242.32,444.62 243.66,443.54 244.04,442.96 C244.43,442.39 244.91,441.81 244.54,441.61 C244.17,441.40 242.58,441.52 241.58,441.61 C240.58,441.70 238.90,442.41 237.88,442.22 C236.86,442.04 235.41,441.11 234.80,440.37 C234.19,439.64 233.87,438.09 233.81,437.29 C233.75,436.50 234.74,435.18 234.43,435.07 C234.11,434.96 232.58,436.22 231.71,436.55 C230.84,436.89 228.54,437.74 228.63,437.29 C228.72,436.85 231.50,434.52 232.33,433.59 C233.16,432.67 234.18,431.96 234.18,431.13 C234.18,430.29 232.98,429.06 232.33,428.04 C231.68,427.03 230.38,425.45 229.86,424.35 C229.35,423.24 228.51,421.66 228.88,420.65Z" fill="#3868ad" stroke="#6a9cd6" stroke-width="2.4" stroke-linejoin="round"/>
<path d="M228.88,420.65 C229.25,419.63 230.89,418.30 232.33,417.56 C233.77,416.82 236.83,416.12 238.50,415.71 C240.16,415.31 242.23,414.76 243.43,414.85 C244.63,414.94 246.09,415.55 246.51,416.33 C246.94,417.11 246.45,418.86 246.26,420.03 C246.08,421.19 245.06,423.73 245.28,424.10 C245.50,424.47 246.91,422.92 247.74,422.50 C248.58,422.07 249.81,421.26 250.83,421.26 C251.84,421.26 253.51,421.85 254.53,422.50 C255.54,423.14 257.09,424.65 257.61,425.58 C258.13,426.50 258.26,427.90 257.98,428.66 C257.70,429.42 256.46,430.04 255.76,430.63 C255.06,431.23 253.70,431.94 253.29,432.61 C252.89,433.27 252.68,434.59 253.05,435.07 C253.42,435.55 254.80,435.76 255.76,435.81 C256.72,435.87 258.35,435.26 259.46,435.44 C260.57,435.63 262.19,436.31 263.16,437.05 C264.12,437.79 265.50,439.41 265.87,440.37 C266.24,441.34 266.03,442.70 265.62,443.46 C265.22,444.22 263.80,444.88 263.16,445.43 C262.51,445.99 261.64,446.55 261.31,447.16 C260.97,447.77 260.57,449.13 260.94,449.50 C261.31,449.87 262.79,449.57 263.77,449.62 C264.75,449.68 266.45,449.41 267.47,449.87 C268.49,450.33 269.98,451.73 270.55,452.71 C271.13,453.69 271.48,455.39 271.29,456.40 C271.11,457.42 270.36,458.75 269.32,459.49 C268.29,460.23 266.05,461.24 264.39,461.34 C262.73,461.43 259.67,460.57 258.22,460.10 C256.78,459.64 255.47,458.99 254.77,458.25 C254.07,457.51 253.85,456.00 253.54,455.17 C253.22,454.34 253.12,453.32 252.68,452.71 C252.23,452.09 251.32,451.27 250.58,451.10 C249.84,450.94 248.72,451.63 247.74,451.60 C246.76,451.56 244.97,451.34 244.04,450.86 C243.12,450.37 241.89,449.20 241.58,448.39 C241.26,447.58 241.58,446.24 241.95,445.43 C242.32,444.62 243.66,443.54 244.04,442.96 C244.43,442.39 244.91,441.81 244.54,441.61 C244.17,441.40 242.58,441.52 241.58,441.61 C240.58,441.70 238.90,442.41 237.88,442.22 C236.86,442.04 235.41,441.11 234.80,440.37 C234.19,439.64 233.87,438.09 233.81,437.29 C233.75,436.50 234.74,435.18 234.43,435.07 C234.11,434.96 232.58,436.22 231.71,436.55 C230.84,436.89 228.54,437.74 228.63,437.29 C228.72,436.85 231.50,434.52 232.33,433.59 C233.16,432.67 234.18,431.96 234.18,431.13 C234.18,430.29 232.98,429.06 232.33,428.04 C231.68,427.03 230.38,425.45 229.86,424.35 C229.35,423.24 228.51,421.66 228.88,420.65Z" fill="#3868ad" stroke="#1d2f55" stroke-width="0.55" stroke-linejoin="round"/>
</g></g>
<text x="235.00" y="439.80" font-size="10.7" font-weight="bold" text-anchor="start" fill="#000" textLength="10.80" lengthAdjust="spacingAndGlyphs">Fe</text>
<text x="247.20" y="437.00" font-size="8.2" font-weight="bold" text-anchor="start" fill="#000" textLength="8.00" lengthAdjust="spacingAndGlyphs">2+</text>
<circle cx="341" cy="401.7" r="11.8" fill="#c8532a"/>
<line x1="329.72" y1="398.25" x2="337.50" y2="398.25" stroke="#f6e6cc" stroke-width="0.9" stroke-linecap="butt"/>
<line x1="338.35" y1="390.20" x2="342.24" y2="396.95" stroke="#f6e6cc" stroke-width="0.9" stroke-linecap="butt"/>
<line x1="349.63" y1="393.65" x2="345.74" y2="400.40" stroke="#f6e6cc" stroke-width="0.9" stroke-linecap="butt"/>
<line x1="352.28" y1="405.15" x2="344.50" y2="405.15" stroke="#f6e6cc" stroke-width="0.9" stroke-linecap="butt"/>
<line x1="343.65" y1="413.20" x2="339.76" y2="406.45" stroke="#f6e6cc" stroke-width="0.9" stroke-linecap="butt"/>
<line x1="332.37" y1="409.75" x2="336.26" y2="403.00" stroke="#f6e6cc" stroke-width="0.9" stroke-linecap="butt"/>
<text x="336.50" y="405.50" font-size="10" font-weight="bold" text-anchor="start" fill="#000" textLength="9.80" lengthAdjust="spacingAndGlyphs">Fe</text>
<line x1="331.90" y1="423.00" x2="331.90" y2="414.80" stroke="#000" stroke-width="1.2" stroke-linecap="butt"/>
<polygon points="331.90,411.70 333.70,415.30 330.10,415.30" fill="#000"/>
<text x="337.80" y="421.70" font-size="9.8" font-weight="bold" text-anchor="start" fill="#000" textLength="31.30" lengthAdjust="spacingAndGlyphs" stroke="#000" stroke-width="0.22">Ferritin</text>
<text x="387.40" y="410.50" font-size="10.3" font-weight="bold" text-anchor="start" fill="#000" textLength="73.00" lengthAdjust="spacingAndGlyphs" stroke="#000" stroke-width="0.22">Acidification and</text>
<text x="387.4" y="422.8" font-size="10.3" font-weight="bold" stroke="#000" stroke-width="0.22" textLength="61.9" lengthAdjust="spacingAndGlyphs">release of Fe<tspan dy="-3.4" font-size="7">3+</tspan></text>
</g>
</svg></body></html>
